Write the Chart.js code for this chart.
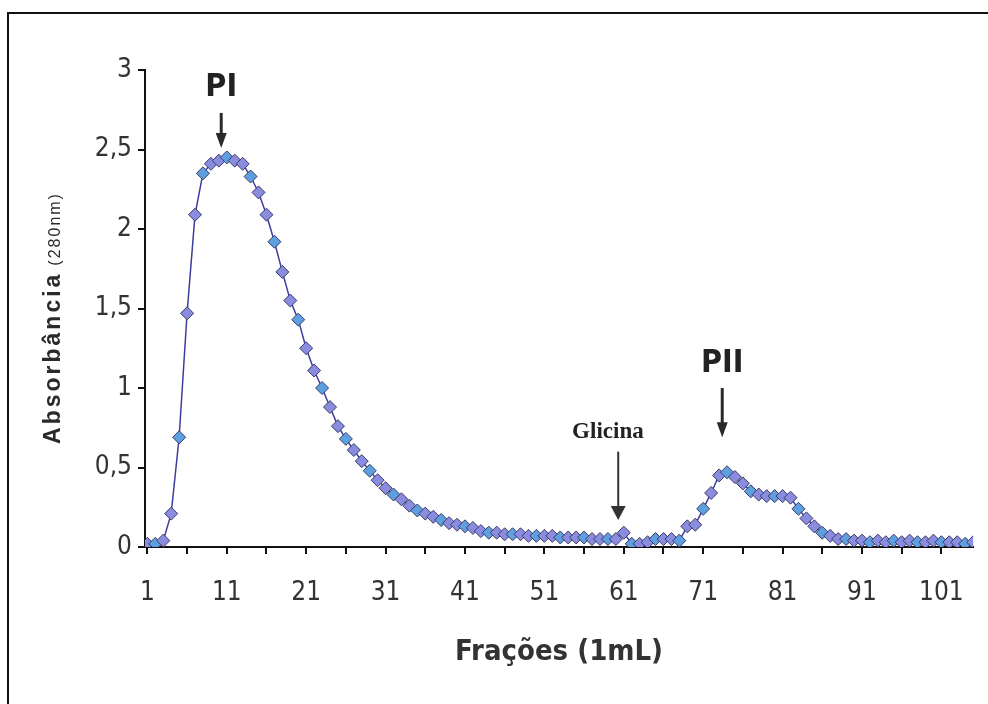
<!DOCTYPE html>
<html>
<head>
<meta charset="utf-8">
<script src="https://cdn.jsdelivr.net/npm/chart.js@4/dist/chart.umd.min.js"></script>
<style>
  html, body { margin: 0; padding: 0; background: #fff; }
  body { width: 988px; height: 704px; position: relative; overflow: hidden; }
  #frame { position: absolute; left: 7px; top: 12px; width: 990px; height: 720px; border: 2px solid #111; border-bottom: none; box-sizing: border-box; }
  #chart { position: absolute; left: 0; top: 0; }
</style>
</head>
<body>
<div id="frame"></div>
<canvas id="chart" width="988" height="704"></canvas>
<script>
const NARROW = '"Liberation Sans Narrow", "Arial Narrow", "DejaVu Sans Condensed", sans-serif';

// Frações (1 mL)
const fractions = [
  1, 2, 3, 4, 5, 6, 7, 8, 9, 10,
  11, 12, 13, 14, 15, 16, 17, 18, 19, 20,
  21, 22, 23, 24, 25, 26, 27, 28, 29, 30,
  31, 32, 33, 34, 35, 36, 37, 38, 39, 40,
  41, 42, 43, 44, 45, 46, 47, 48, 49, 50,
  51, 52, 53, 54, 55, 56, 57, 58, 59, 60,
  61, 62, 63, 64, 65, 66, 67, 68, 69, 70,
  71, 72, 73, 74, 75, 76, 77, 78, 79, 80,
  81, 82, 83, 84, 85, 86, 87, 88, 89, 90,
  91, 92, 93, 94, 95, 96, 97, 98, 99, 100,
  101, 102, 103, 104, 105
];

// Absorbância a 280 nm
const absorbance = [
  0.02, 0.02, 0.04, 0.21, 0.69, 1.47, 2.09, 2.35, 2.41, 2.43,
  2.45, 2.43, 2.41, 2.33, 2.23, 2.09, 1.92, 1.73, 1.55, 1.43,
  1.25, 1.11, 1.00, 0.88, 0.76, 0.68, 0.61, 0.54, 0.48, 0.42,
  0.37, 0.33, 0.30, 0.26, 0.23, 0.21, 0.19, 0.17, 0.15, 0.14,
  0.13, 0.12, 0.10, 0.09, 0.09, 0.08, 0.08, 0.08, 0.07, 0.07,
  0.07, 0.07, 0.06, 0.06, 0.06, 0.06, 0.05, 0.05, 0.05, 0.05,
  0.09, 0.02, 0.02, 0.03, 0.05, 0.05, 0.05, 0.04, 0.13, 0.14,
  0.24, 0.34, 0.45, 0.47, 0.44, 0.40, 0.35, 0.33, 0.32, 0.32,
  0.32, 0.31, 0.24, 0.18, 0.13, 0.09, 0.07, 0.05, 0.05, 0.04,
  0.04, 0.03, 0.04, 0.03, 0.04, 0.03, 0.04, 0.03, 0.03, 0.04,
  0.03, 0.03, 0.03, 0.02, 0.03
];

const xTickValues = [1, 6, 11, 16, 21, 26, 31, 36, 41, 46, 51, 56, 61, 66, 71, 76, 81, 86, 91, 96, 101];
const xLabelValues = [1, 11, 21, 31, 41, 51, 61, 71, 81, 91, 101];
const yTickValues = [0, 0.5, 1, 1.5, 2, 2.5, 3];

// peak labels with arrows, in data units
const peakMarks = [
  { text: 'PI', x: 10.3, textY: 2.89, tailY: 2.73, tipY: 2.51 },
  { text: 'PII', x: 73.4, textY: 1.15, tailY: 1.0, tipY: 0.69 }
];
const glycineMark = { text: 'Glicina', textX: 59.0, textY: 0.72, x: 60.3, tailY: 0.60, tipY: 0.17 };

function drawArrow(ctx, x, y1, y2, stem, headW, headH, color) {
  ctx.strokeStyle = color;
  ctx.fillStyle = color;
  ctx.lineWidth = stem;
  ctx.beginPath();
  ctx.moveTo(x, y1);
  ctx.lineTo(x, y2 - headH + 1);
  ctx.stroke();
  ctx.beginPath();
  ctx.moveTo(x - headW / 2, y2 - headH);
  ctx.lineTo(x + headW / 2, y2 - headH);
  ctx.lineTo(x, y2);
  ctx.closePath();
  ctx.fill();
}

const notesPlugin = {
  id: 'notes',
  afterDraw(chart) {
    const ctx = chart.ctx;
    const xs = chart.scales.x;
    const ys = chart.scales.y;
    ctx.save();

    for (const m of peakMarks) {
      const px = xs.getPixelForValue(m.x);
      ctx.font = `bold 32px ${NARROW}`;
      ctx.fillStyle = '#222';
      ctx.textAlign = 'center';
      ctx.textBaseline = 'middle';
      ctx.fillText(m.text, px, ys.getPixelForValue(m.textY));
      drawArrow(ctx, px, ys.getPixelForValue(m.tailY), ys.getPixelForValue(m.tipY), 3, 11, 15, '#2a2a2a');
    }

    const g = glycineMark;
    ctx.font = 'bold 23px "Liberation Serif", "DejaVu Serif", serif';
    ctx.fillStyle = '#222';
    ctx.textAlign = 'center';
    ctx.textBaseline = 'middle';
    ctx.fillText(g.text, xs.getPixelForValue(g.textX), ys.getPixelForValue(g.textY));
    drawArrow(ctx, xs.getPixelForValue(g.x), ys.getPixelForValue(g.tailY), ys.getPixelForValue(g.tipY), 2, 15, 14, '#333');

    // y axis title with smaller unit
    const mainFont = 'bold 23px "Liberation Sans", Arial, sans-serif';
    const unitFont = '16px "Liberation Sans", Arial, sans-serif';
    ctx.translate(60, 318);
    ctx.rotate(-Math.PI / 2);
    ctx.textAlign = 'left';
    ctx.textBaseline = 'alphabetic';
    ctx.fillStyle = '#2a2a2a';
    ctx.font = mainFont;
    ctx.letterSpacing = '3px';
    const main = 'Absorbância';
    const wMain = ctx.measureText(main).width;
    ctx.font = unitFont;
    ctx.letterSpacing = '2px';
    const unit = '(280nm)';
    const wUnit = ctx.measureText(unit).width;
    const start = -(wMain + 6 + wUnit) / 2;
    ctx.font = mainFont;
    ctx.letterSpacing = '3px';
    ctx.fillText(main, start, 0);
    ctx.font = unitFont;
    ctx.letterSpacing = '2px';
    ctx.fillText(unit, start + wMain + 6, 0);
    ctx.restore();
  }
};

new Chart(document.getElementById('chart'), {
  type: 'line',
  data: {
    datasets: [{
      data: fractions.map((f, i) => ({ x: f, y: absorbance[i] })),
      borderColor: '#3d3d9e',
      borderWidth: 1.5,
      tension: 0,
      pointStyle: 'rectRot',
      pointRadius: 6.5,
      pointBorderWidth: 1,
      pointBorderColor: '#3a3a66',
      pointBackgroundColor: (c) => (c.dataIndex % 3 === 1 ? '#5e9fe0' : '#8a8ce0'),
      fill: false
    }]
  },
  options: {
    responsive: false,
    animation: false,
    layout: { padding: { top: 70, right: 8, bottom: 0, left: 0 } },
    plugins: {
      legend: { display: false },
      tooltip: { enabled: false }
    },
    scales: {
      x: {
        type: 'linear',
        min: 0.7,
        max: 105,
        afterBuildTicks: (axis) => { axis.ticks = xTickValues.map((v) => ({ value: v })); },
        afterFit: (axis) => { axis.height = 157; },
        border: { display: true, color: '#111', width: 2 },
        grid: { display: true, drawOnChartArea: false, drawTicks: true, tickLength: 7, color: '#111', lineWidth: 2 },
        ticks: {
          autoSkip: false,
          maxRotation: 0,
          padding: 24,
          color: '#333',
          font: { family: NARROW, size: 26 },
          callback: (v) => (xLabelValues.includes(v) ? String(v) : '')
        },
        title: {
          display: true,
          text: 'Frações (1mL)',
          color: '#333',
          font: { family: NARROW, size: 29, weight: 'bold' },
          padding: { top: 0, bottom: 34 }
        }
      },
      y: {
        min: 0,
        max: 3,
        afterBuildTicks: (axis) => { axis.ticks = yTickValues.map((v) => ({ value: v })); },
        afterFit: (axis) => { axis.width = 145; },
        border: { display: true, color: '#111', width: 2 },
        grid: { display: true, drawOnChartArea: false, drawTicks: true, tickLength: 7, color: '#111', lineWidth: 2 },
        ticks: {
          padding: 6,
          color: '#333',
          font: { family: NARROW, size: 26 },
          callback: (v) => String(v).replace('.', ',')
        }
      }
    }
  },
  plugins: [notesPlugin]
});
</script>
</body>
</html>
